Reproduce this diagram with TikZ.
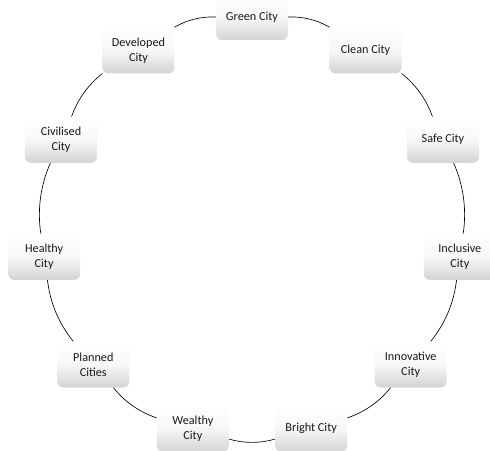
\documentclass[tikz,border=0pt]{standalone}
\usepackage{fontspec}
\setmainfont{Carlito}
\begin{document}
\begin{tikzpicture}[x=1pt,y=-1pt,
  citybox/.style={rounded corners=6pt, minimum width=72pt, minimum height=46pt,
    inner sep=0pt, align=center, top color=white, bottom color=black!17,
    middle color=white!97!black, font=\fontsize{12.2}{15}\selectfont, text=black!90},
  ring/.style={draw=black, line width=0.65pt, bend left=16.36, looseness=0.87}]
  % page frame, ring centre at the origin
  \useasboundingbox (-252,-227) rectangle (238,223);
  % positions of the eleven stations, clockwise from the top
  \foreach \i in {0,...,10}
    \coordinate (p\i) at ({-90+\i*360/11}:210);
  % the stations
  \foreach \i/\txt in {0/Green City, 1/Clean City, 2/Safe City, 3/Inclusive\\City,
      4/Innovative\\City, 5/Bright City, 6/Wealthy\\City, 7/Planned\\Cities,
      8/Healthy\\City, 9/Civilised\\City, 10/Developed\\City}
    \node[citybox] (n\i) at (p\i) {\txt};
  % ring segments between neighbouring stations
  \foreach \i [evaluate=\i as \j using {int(mod(\i+1,11))}] in {0,...,10}
    \draw[ring] (n\i) to (n\j);
\end{tikzpicture}
\end{document}
